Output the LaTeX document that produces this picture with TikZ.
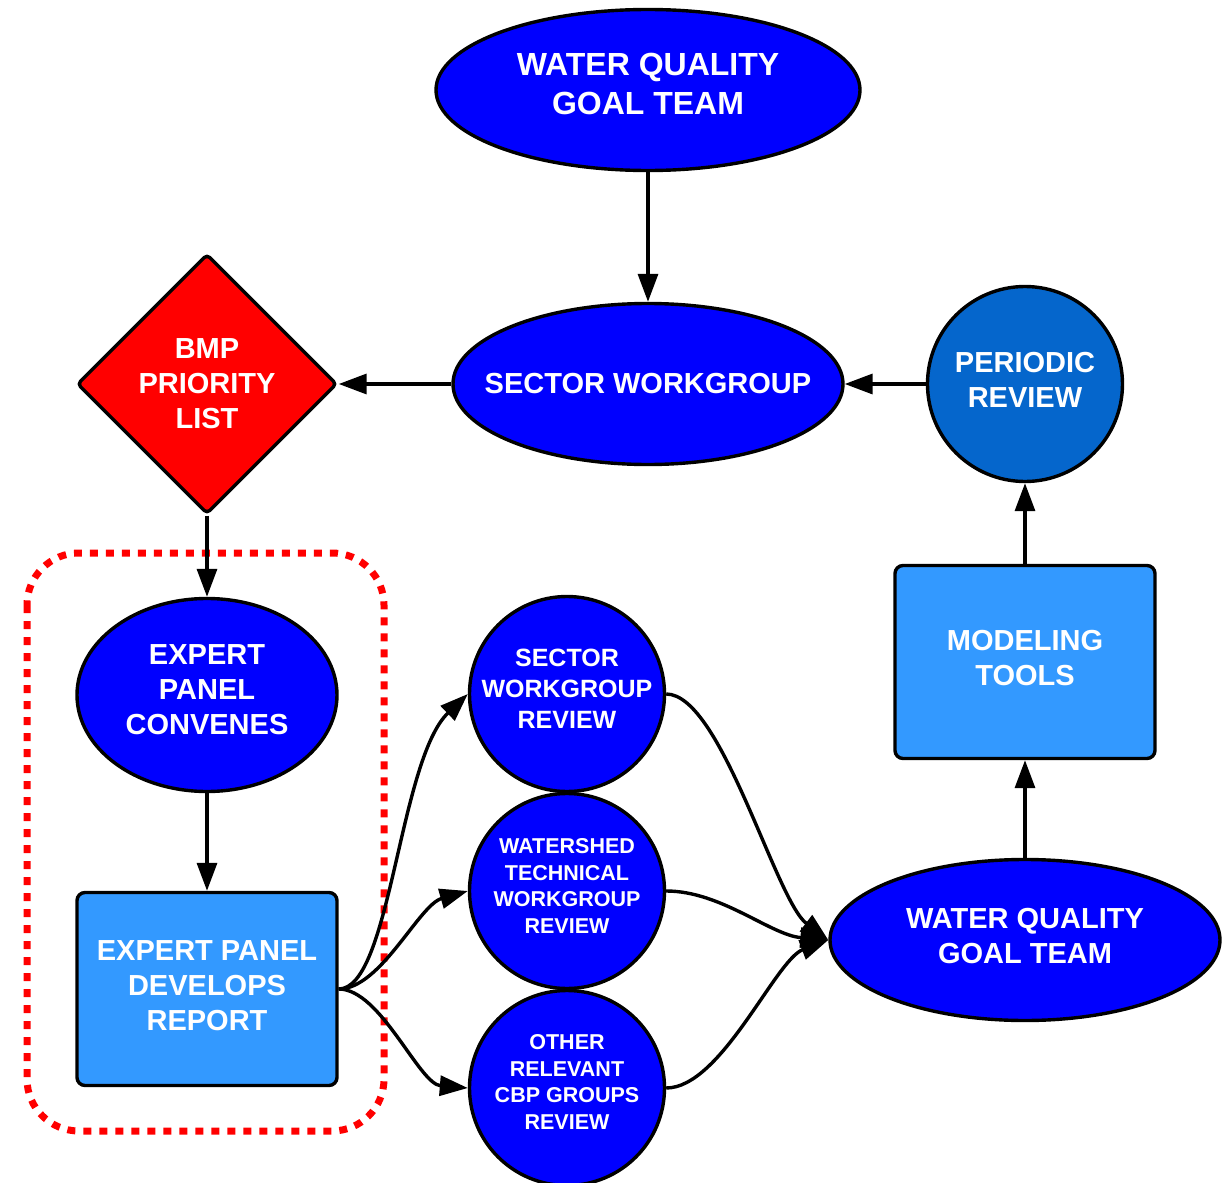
\documentclass[tikz,border=0pt]{standalone}
\usepackage{fontspec}
\setmainfont{Liberation Sans}
\usetikzlibrary{shapes.geometric,arrows.meta}
\definecolor{pureblue}{RGB}{0,0,255}
\definecolor{midblue}{RGB}{5,102,204}
\definecolor{lightblue}{RGB}{51,153,255}
\definecolor{purered}{RGB}{255,0,0}
\begin{document}
\begin{tikzpicture}[x=0.5pt,y=-0.5pt,
  shp/.style={draw=black,line width=1.7pt,inner sep=0pt},
  ell/.style={shp,ellipse,fill=pureblue},
  circ/.style={shp,circle,fill=pureblue,minimum size=97.5pt},
  boxs/.style={shp,rectangle,rounded corners=4pt,fill=lightblue,minimum width=130pt,minimum height=96.5pt},
  lbl/.style={text=white,font=\bfseries\fontsize{14.5}{17.5}\selectfont,align=center,inner sep=0pt},
  small/.style={lbl,font=\bfseries\fontsize{10.75}{13.25}\selectfont},
  conn/.style={line width=1.7pt,-{Triangle[length=14pt,width=10pt]}},
  frame/.style={draw=purered,line width=3.5pt,dash pattern=on 4pt off 4pt,rounded corners=26pt}
]
\useasboundingbox (0,0) rectangle (1223,1183);
\path[frame] (27,553) rectangle (384,1131);

% shapes
\node[ell,minimum width=212pt,minimum height=80.5pt] (wqg1) at (648,90) {};
\node[ell,minimum width=195pt,minimum height=80.5pt] (sw) at (648,384) {};
\node[shp,diamond,fill=purered,minimum width=130pt,minimum height=130pt,rounded corners=2pt] (bmp) at (207,384) {};
\node[shp,circle,fill=midblue,minimum size=97.5pt] (pr) at (1025,384) {};
\node[boxs] (mt) at (1025,662) {};
\node[ell,minimum width=195pt,minimum height=80.5pt] (wqg2) at (1025,940) {};
\node[ell,minimum width=130pt,minimum height=96.5pt] (epc) at (207,695) {};
\node[boxs] (epd) at (207,989) {};
\node[circ] (swr) at (567,694) {};
\node[circ] (wtw) at (567,891) {};
\node[circ] (ocb) at (567,1088) {};

% texts
\node[lbl,font=\bfseries\fontsize{16}{19.5}\selectfont] (wqg1-t) at (648,84) {WATER QUALITY\\GOAL TEAM};
\node[lbl] (sw-t) at (sw) {SECTOR WORKGROUP};
\node[lbl] (bmp-t) at (bmp) {BMP\\PRIORITY\\LIST};
\node[lbl] (pr-t) at (1025,380) {PERIODIC\\REVIEW};
\node[lbl] (mt-t) at (1025,658) {MODELING\\TOOLS};
\node[lbl] (wqg2-t) at (1025,936) {WATER QUALITY\\GOAL TEAM};
\node[lbl] (epc-t) at (207,690) {EXPERT\\PANEL\\CONVENES};
\node[lbl] (epd-t) at (207,986) {EXPERT PANEL\\DEVELOPS\\REPORT};
\node[lbl,font=\bfseries\fontsize{12.5}{15.5}\selectfont] (swr-t) at (567,689) {SECTOR\\WORKGROUP\\REVIEW};
\node[small] (wtw-t) at (567,886) {WATERSHED\\TECHNICAL\\WORKGROUP\\REVIEW};
\node[small] (ocb-t) at (567,1082) {OTHER\\RELEVANT\\CBP GROUPS\\REVIEW};

% connectors
\draw[conn] (wqg1) -- (sw);
\draw[conn] (sw) -- (bmp);
\draw[conn] (pr) -- (sw);
\draw[conn] (bmp) -- (epc);
\draw[conn] (epc) -- (epd);
\draw[conn] (wqg2) -- (mt);
\draw[conn] (mt) -- (pr);
\draw[conn] (epd.east) .. controls +(52,0) and +(-69,66) .. (swr.west);
\draw[conn] (epd.east) .. controls +(42,0) and +(-49,14) .. (wtw.west);
\draw[conn] (epd.east) .. controls +(42,0) and +(-49,-4) .. (ocb.west);
\draw[conn] (swr.east) .. controls +(55,0) and +(-53,-40) .. (wqg2.west);
\draw[conn] (wtw.east) .. controls +(55,0) and +(-58,-5) .. (wqg2.west);
\draw[conn] (ocb.east) .. controls +(55,0) and +(-53,20) .. (wqg2.west);
\end{tikzpicture}
\end{document}
